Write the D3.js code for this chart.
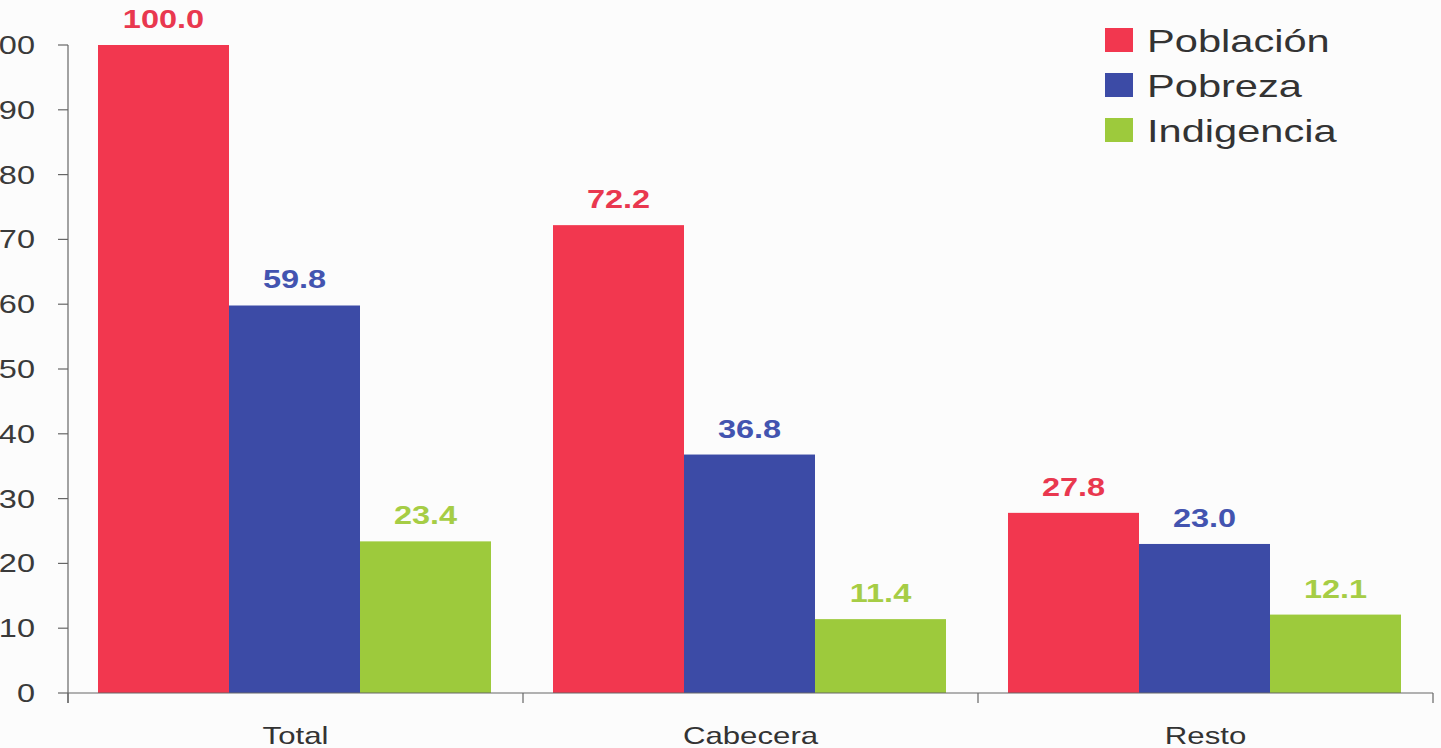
<!DOCTYPE html>
<html><head><meta charset="utf-8">
<script src="https://cdn.jsdelivr.net/npm/d3@7"></script>
<style>body{margin:0;background:#fcfcfc}svg{display:block}</style>
</head><body>
<script>
const categories = ["Total", "Cabecera", "Resto"];
const series = ["Población", "Pobreza", "Indigencia"];
const poblacion = [100.0, 72.2, 27.8];
const pobreza = [59.8, 36.8, 23.0];
const indigencia = [23.4, 11.4, 12.1];
const yTicks = [0, 10, 20, 30, 40, 50, 60, 70, 80, 90, 100];

const values = [poblacion, pobreza, indigencia];
const barColors = ["#f2374f", "#3c4ba6", "#9dca3c"];
const labelColors = ["#e9384f", "#4354b0", "#a6cd45"];
const SX = 1.3;

const W = 1441, H = 748;
const svg = d3.select("body").append("svg").attr("width", W).attr("height", H);
svg.append("rect").attr("width", W).attr("height", H).attr("fill", "#fcfcfc");

const x = d3.scaleBand().domain(categories).range([68, 1433]).padding(0);
const xs = d3.scaleBand().domain(series).range([30, x.bandwidth() - 32]).padding(0);
const y = d3.scaleLinear().domain([0, 100]).range([693, 45]);

function stxt(g, tx, ty, str, size, color, weight, anchor) {
  return g.append("text")
    .attr("transform", `translate(${tx},${ty}) scale(${SX},1)`)
    .attr("text-anchor", anchor || "middle")
    .attr("font-family", "Liberation Sans, Arial, sans-serif")
    .attr("font-size", size).attr("font-weight", weight || "normal")
    .attr("fill", color).text(str);
}

// bars
categories.forEach((c, i) => {
  series.forEach((s, j) => {
    const v = values[j][i];
    svg.append("rect")
      .attr("x", x(c) + xs(s)).attr("width", xs.bandwidth())
      .attr("y", y(v)).attr("height", y(0) - y(v))
      .attr("fill", barColors[j]);
    stxt(svg, x(c) + xs(s) + xs.bandwidth() / 2, y(v) - 17, v.toFixed(1), 25, labelColors[j], "bold");
  });
});

// y axis
const gy = svg.append("g");
gy.append("line").attr("x1", 68).attr("x2", 68).attr("y1", y(100)).attr("y2", y(0) + 10)
  .attr("stroke", "#666").attr("stroke-width", 1.2);
yTicks.forEach(t => {
  gy.append("line").attr("x1", 58).attr("x2", 68).attr("y1", y(t)).attr("y2", y(t))
    .attr("stroke", "#666").attr("stroke-width", 1.2);
  stxt(gy, 35, y(t) + 9, String(t), 25, "#3a3a3a", "normal", "end");
});

// x axis
const gx = svg.append("g");
gx.append("line").attr("x1", 68).attr("x2", 1433).attr("y1", y(0)).attr("y2", y(0))
  .attr("stroke", "#666").attr("stroke-width", 1.2);
const edges = categories.map(c => x(c)).concat([x.range()[1]]);
edges.forEach(e => {
  gx.append("line").attr("x1", e).attr("x2", e).attr("y1", y(0)).attr("y2", y(0) + 10)
    .attr("stroke", "#666").attr("stroke-width", 1.2);
});
categories.forEach(c => {
  stxt(gx, x(c) + x.bandwidth() / 2, 744, c, 24, "#333", "normal");
});

// legend
const lg = svg.append("g");
series.forEach((s, j) => {
  const cy = 40 + j * 45;
  lg.append("rect").attr("x", 1105).attr("y", cy - 12).attr("width", 28).attr("height", 24)
    .attr("fill", barColors[j]);
  stxt(lg, 1147, cy + 12, s, 32, "#333", "normal", "start");
});
</script>
</body></html>
